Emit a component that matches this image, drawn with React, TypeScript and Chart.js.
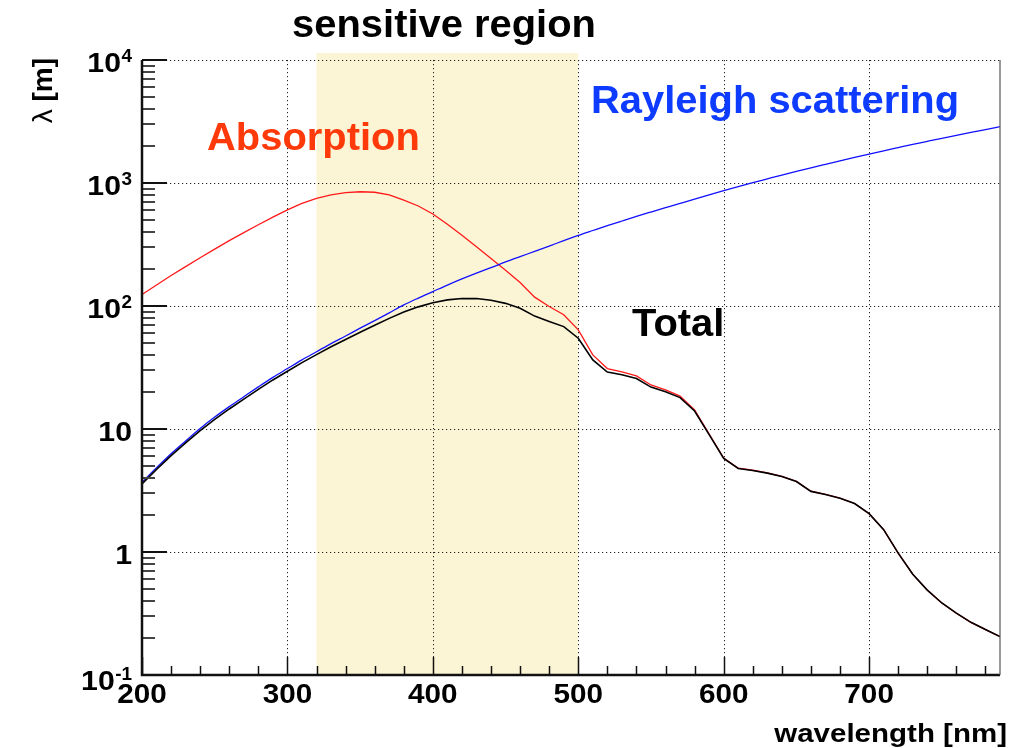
import React, { useEffect, useRef } from "react";
import { Chart, registerables } from "chart.js";

Chart.register(...registerables);

// ---- data ----
const wavelengths = [
  200, 210, 220, 230, 240, 250, 260, 270, 280, 290,
  300, 310, 320, 330, 340, 350, 360, 370, 380, 390,
  400, 410, 420, 430, 440, 450, 460, 470, 480, 490,
  500, 510, 520, 530, 540, 550, 560, 570, 580, 590,
  600, 610, 620, 630, 640, 650, 660, 670, 680, 690,
  700, 710, 720, 730, 740, 750, 760, 770, 780, 790,
];

const absorption = [
  124, 148, 177, 209, 247, 290, 340, 395, 458, 528,
  605, 682, 750, 802, 834, 849, 841, 800, 726, 650,
  560, 462, 376, 303, 243, 195, 155, 118, 99, 85,
  64, 40, 31, 29.2, 27, 22.8, 20.8, 18.5, 14.3, 9.1,
  5.8, 4.8, 4.62, 4.4, 4.12, 3.75, 3.12, 2.94, 2.74, 2.48,
  2.05, 1.52, 0.98, 0.66, 0.49, 0.385, 0.318, 0.268, 0.234, 0.205,
];

const rayleigh = [
  3.69, 4.85, 6.3, 8.0, 10.1, 12.5, 15.2, 18.3, 22.0, 26.3,
  31.0, 36.5, 42.5, 49.5, 57, 66, 76, 88, 102, 116,
  131, 148, 166, 185, 205, 228, 252, 278, 307, 340,
  375, 411, 450, 491, 535, 581, 630, 683, 740, 800,
  865, 933, 1005, 1080, 1160, 1243, 1330, 1420, 1515, 1615,
  1720, 1828, 1940, 2058, 2180, 2308, 2440, 2578, 2720, 2870,
];

const total = [
  3.58, 4.7, 6.08, 7.71, 9.7, 11.98, 14.55, 17.49, 20.99, 25.05,
  29.49, 34.64, 40.23, 46.62, 53.36, 61.24, 69.7, 79.3, 89.4, 98.4,
  106.2, 112.1, 115.2, 114.9, 111.2, 105.1, 96.0, 82.8, 74.9, 68.0,
  54.7, 36.4, 29.0, 27.6, 25.7, 21.9, 20.1, 18.0, 14.0, 9.0,
  5.76, 4.78, 4.6, 4.38, 4.11, 3.74, 3.11, 2.93, 2.74, 2.48,
  2.05, 1.52, 0.98, 0.66, 0.49, 0.385, 0.318, 0.268, 0.234, 0.205,
];

const xMin = 200;
const xMax = 790;
const yMin = 0.1;
const yMax = 10000;

const xMajorTicks = [200, 300, 400, 500, 600, 700];
const xTickLabels = ["200", "300", "400", "500", "600", "700"];
const xMinorTicks = [
  220, 240, 260, 280, 320, 340, 360, 380, 420, 440, 460, 480,
  520, 540, 560, 580, 620, 640, 660, 680, 720, 740, 760, 780,
];
const yDecades = [0.1, 1, 10, 100, 1000, 10000];
const yTickLabels = ["10^-1", "1", "10", "10^2", "10^3", "10^4"];
const yMinorMultipliers = [2, 3, 4, 5, 6, 7, 8, 9];

const sensitiveRegion = [320, 500];

const FONT = '"Liberation Sans", Arial, Helvetica, sans-serif';

function drawText(
  ctx: CanvasRenderingContext2D,
  text: string,
  x: number,
  y: number,
  size: number,
  color: string,
  align: "left" | "right" | "center",
  sx = 1,
  weight = "bold"
) {
  ctx.save();
  ctx.font = `${weight} ${size}px ${FONT}`;
  ctx.fillStyle = color;
  ctx.textBaseline = "alphabetic";
  ctx.textAlign = "left";
  const w = ctx.measureText(text).width * sx;
  const left = align === "left" ? x : align === "right" ? x - w : x - w / 2;
  ctx.translate(left, y);
  ctx.scale(sx, 1);
  ctx.fillText(text, 0, 0);
  ctx.restore();
  return w;
}

const decorPlugin = {
  id: "rootDecor",
  beforeDatasetsDraw(chart: any) {
    const { ctx, chartArea } = chart;
    const xs = chart.scales.x;
    const ys = chart.scales.y;
    const { left, right, top, bottom } = chartArea;
    ctx.save();
    // sensitive region band
    const x0 = xs.getPixelForValue(sensitiveRegion[0]);
    const x1 = xs.getPixelForValue(sensitiveRegion[1]);
    ctx.fillStyle = "#fbf4d5";
    ctx.fillRect(x0, top - 7, x1 - x0, bottom - top + 7);
    // dotted grid
    ctx.strokeStyle = "#222";
    ctx.lineWidth = 1;
    ctx.setLineDash([1.2, 2.8]);
    xMajorTicks.forEach((v) => {
      if (v <= xMin) return;
      const px = Math.round(xs.getPixelForValue(v)) + 0.5;
      ctx.beginPath();
      ctx.moveTo(px, top);
      ctx.lineTo(px, bottom);
      ctx.stroke();
    });
    yDecades.forEach((v) => {
      if (v <= yMin) return;
      const py = Math.round(ys.getPixelForValue(v)) + 0.5;
      ctx.beginPath();
      ctx.moveTo(left, py);
      ctx.lineTo(right, py);
      ctx.stroke();
    });
    ctx.restore();
  },
  afterDatasetsDraw(chart: any) {
    const { ctx, chartArea } = chart;
    const xs = chart.scales.x;
    const ys = chart.scales.y;
    const { left, right, top, bottom } = chartArea;
    ctx.save();
    ctx.setLineDash([]);
    // tick marks (inside)
    ctx.lineWidth = 1.5;
    ctx.strokeStyle = "#111";
    xMajorTicks.forEach((v) => {
      const px = Math.round(xs.getPixelForValue(v)) + 0.5;
      ctx.beginPath();
      ctx.moveTo(px, bottom);
      ctx.lineTo(px, bottom - 18);
      ctx.stroke();
    });
    xMinorTicks.forEach((v) => {
      const px = Math.round(xs.getPixelForValue(v)) + 0.5;
      ctx.beginPath();
      ctx.moveTo(px, bottom);
      ctx.lineTo(px, bottom - 9);
      ctx.stroke();
    });
    ctx.lineWidth = 2;
    yDecades.forEach((v, i) => {
      const py = Math.round(ys.getPixelForValue(v));
      ctx.strokeStyle = "#111";
      ctx.beginPath();
      ctx.moveTo(left, py);
      ctx.lineTo(left + 25, py);
      ctx.stroke();
      if (i < yDecades.length - 1) {
        ctx.strokeStyle = "#444";
        yMinorMultipliers.forEach((m) => {
          const my = Math.round(ys.getPixelForValue(v * m));
          ctx.beginPath();
          ctx.moveTo(left, my);
          ctx.lineTo(left + 13, my);
          ctx.stroke();
        });
      }
    });
    // frame
    ctx.strokeStyle = "#111";
    ctx.lineWidth = 2.5;
    ctx.beginPath();
    ctx.moveTo(left, top);
    ctx.lineTo(left, bottom);
    ctx.lineTo(right, bottom);
    ctx.stroke();
    ctx.lineWidth = 1.2;
    ctx.strokeStyle = "#555";
    ctx.beginPath();
    ctx.moveTo(right, top);
    ctx.lineTo(right, bottom);
    ctx.stroke();
    ctx.restore();

    // x tick labels
    xMajorTicks.forEach((v, i) => {
      drawText(ctx, xTickLabels[i], xs.getPixelForValue(v), 703, 27, "#000", "center", 1.1);
    });
    // y tick labels with superscripts
    yDecades.forEach((v, i) => {
      const py = ys.getPixelForValue(v);
      const base = py + (v === yMin ? 15 : 12);
      const lab = yTickLabels[i];
      const parts = lab.split("^");
      let rightEdge = 132;
      if (parts.length > 1) {
        const ew = drawText(ctx, parts[1], rightEdge, base - 10, 18, "#000", "right", 1.05);
        rightEdge -= ew + 0.5;
      }
      drawText(ctx, parts[0], rightEdge, base, 27, "#000", "right", 1.12);
    });

    // axis titles
    drawText(ctx, "wavelength [nm]", 1007, 742, 25, "#000", "right", 1.18);
    ctx.save();
    ctx.translate(52, 58);
    ctx.rotate(-Math.PI / 2);
    const bw = drawText(ctx, " [m]", 0, 0, 28, "#000", "right", 1.0);
    drawText(ctx, "λ", -bw, 0, 28, "#000", "right", 1.0, "normal");
    ctx.restore();

    // annotations
    drawText(ctx, "sensitive region", 444, 37, 38, "#000", "center", 1.05);
    drawText(ctx, "Absorption", 207, 150, 38, "#ff3a0a", "left", 1.05);
    drawText(ctx, "Rayleigh scattering", 591, 113, 38, "#0d3bff", "left", 1.05);
    drawText(ctx, "Total", 632, 336, 38, "#000", "left", 1.05);
  },
};

export default function App() {
  const canvasRef = useRef<HTMLCanvasElement | null>(null);

  useEffect(() => {
    const canvas = canvasRef.current;
    if (!canvas) return;
    const toPts = (vals: number[]) => wavelengths.map((w, i) => ({ x: w, y: vals[i] }));
    const chart = new Chart(canvas, {
      type: "line",
      data: {
        datasets: [
          {
            label: "Total",
            data: toPts(total),
            borderColor: "#000000",
            borderWidth: 1.6,
            pointRadius: 0,
            fill: false,
          },
          {
            label: "Rayleigh scattering",
            data: toPts(rayleigh),
            borderColor: "#1010ff",
            borderWidth: 1.3,
            pointRadius: 0,
            cubicInterpolationMode: "monotone",
            fill: false,
          },
          {
            label: "Absorption",
            data: toPts(absorption),
            borderColor: "#ff1a1a",
            borderWidth: 1.3,
            pointRadius: 0,
            fill: false,
          },
        ],
      },
      options: {
        responsive: false,
        animation: false,
        devicePixelRatio: 1,
        layout: { padding: { left: 142, top: 60, right: 26, bottom: 73 } },
        plugins: {
          legend: { display: false },
          title: { display: false },
          tooltip: { enabled: false },
        },
        events: [],
        scales: {
          x: { type: "linear", min: xMin, max: xMax, display: false },
          y: { type: "logarithmic", min: yMin, max: yMax, display: false },
        },
      },
      plugins: [decorPlugin],
    } as any);
    return () => chart.destroy();
  }, []);

  return (
    <div
      style={{
        position: "fixed",
        left: 0,
        top: 0,
        width: 1026,
        height: 748,
        background: "#ffffff",
      }}
    >
      <canvas ref={canvasRef} width={1026} height={748} style={{ width: 1026, height: 748 }} />
    </div>
  );
}
